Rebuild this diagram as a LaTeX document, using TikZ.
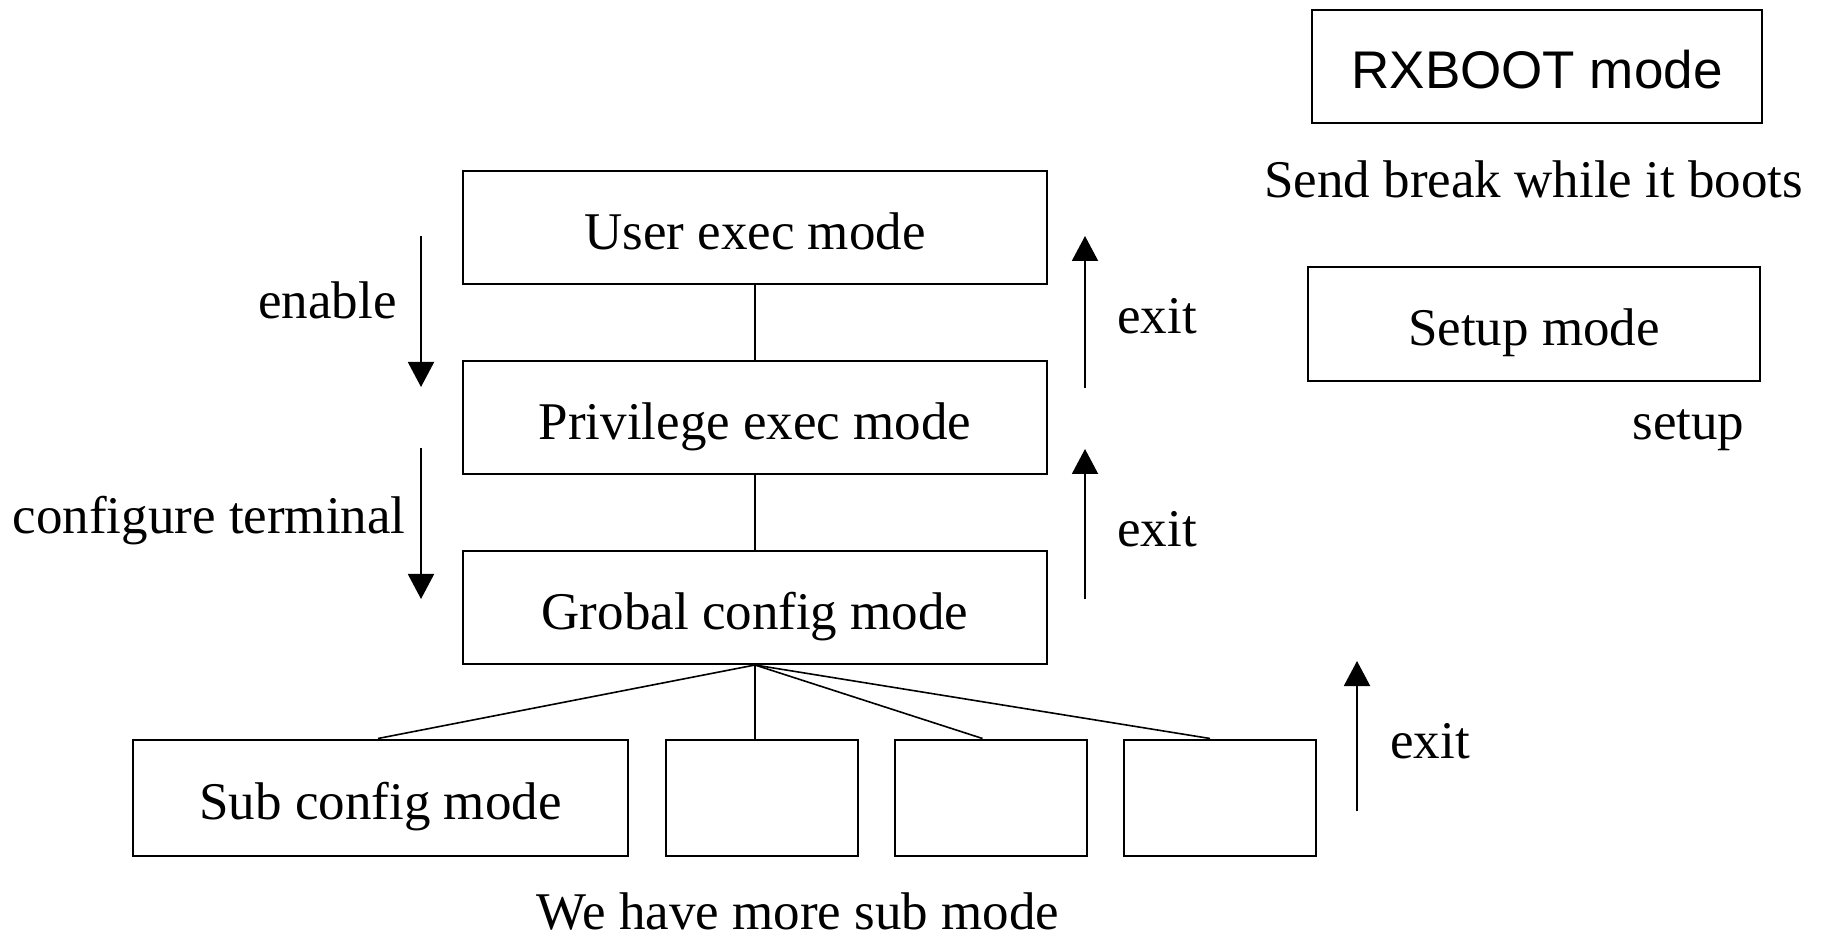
\documentclass[tikz,border=0pt]{standalone}
\usepackage{fontspec}
\setmainfont{Liberation Serif}
\newfontfamily\arialfont{Liberation Sans}
\usetikzlibrary{arrows.meta}

\begin{document}
\begin{tikzpicture}[x=0.5pt,y=-0.5pt,
  font=\fontsize{26.5}{32}\selectfont,
  every node/.style={inner sep=0pt},
  mode/.style={draw,line width=1pt,minimum width=292pt,minimum height=56.5pt,
    text height=21.8pt,text depth=0pt},
  submode/.style={mode,minimum width=96pt,minimum height=58pt},
  level distance=95pt,sibling distance=0pt,
  parent anchor=south,child anchor=north,
  edge from parent/.style={draw,line width=0.8pt},
  endshift/.style={edge from parent path={(\tikzparentnode\tikzparentanchor)
    -- ([xshift=-#1]\tikzchildnode\tikzchildanchor)}},
  modearrow/.style={-{Triangle[length=12.5pt,width=13pt]},line width=1pt}]
\useasboundingbox (0,0) rectangle (1825,940);

\node [mode] (user) at (755,227.5) {User exec mode}
    child {
  node [mode] (priv) {Privilege exec mode}
  child {
  node [mode] (grobal) {Grobal config mode}
    child[endshift=1.25pt]{
  node [submode,minimum width=247.5pt,xshift=-187.25pt] (sub1) {Sub config mode}
  }
    child[endshift=3.5pt]{
  node [submode,xshift=3.5pt] (sub2) {}
  }
    child[endshift=4pt]{
  node [submode,xshift=117.75pt] (sub3) {}
  }
    child[endshift=4.75pt]{
  node [submode,xshift=232.25pt] (sub4) {}
  }
  }
  }
  ;

\node [mode,minimum width=225pt,font=\arialfont\fontsize{26.5}{32}\selectfont] (rxboot) at (1537,66.5) {RXBOOT mode};
\node [anchor=base west] (sendbreak) at (1264,198) {Send break while it boots};
\node [mode,minimum width=226pt,minimum height=57pt] (setupmode) at (1534,324) {Setup mode};
\node [anchor=base west] (setup) at (1632,440) {setup};

\node [anchor=base east] (enable) at (397,319) {enable};
\node [anchor=base east] (conft) at (406,534) {configure terminal};
\node [anchor=base west] (exit1) at (1117,334) {exit};
\node [anchor=base west] (exit2) at (1117,546) {exit};
\node [anchor=base west] (exit3) at (1390,758) {exit};
\node [anchor=base] (moresub) at (798,929) {We have more sub mode};

\coordinate (en1) at (421,236);
\coordinate (en2) at (421,387);
\coordinate (ct1) at (421,448);
\coordinate (ct2) at (421,599);
\coordinate (ex1a) at (1085,388);
\coordinate (ex1b) at (1085,236);
\coordinate (ex2a) at (1085,599);
\coordinate (ex2b) at (1085,449);
\coordinate (ex3a) at (1357,811);
\coordinate (ex3b) at (1357,661);
\draw [modearrow] (en1) -- (en2);
\draw [modearrow] (ct1) -- (ct2);
\draw [modearrow] (ex1a) -- (ex1b);
\draw [modearrow] (ex2a) -- (ex2b);
\draw [modearrow] (ex3a) -- (ex3b);
\end{tikzpicture}
\end{document}
